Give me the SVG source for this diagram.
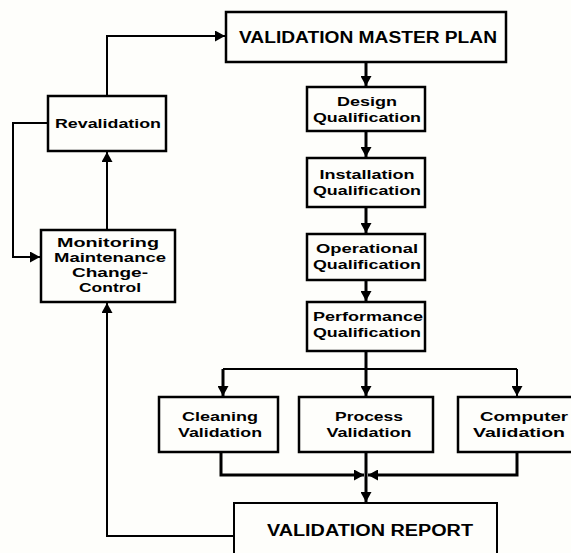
<svg xmlns="http://www.w3.org/2000/svg" width="571" height="553" viewBox="0 0 571 553">
<style>
.box{fill:#fefefb;stroke:#000;stroke-width:2.5}
.t{font-family:"Liberation Sans",Arial,sans-serif;font-weight:bold;font-size:13px;fill:#000;text-anchor:middle}
.big{font-size:16px}
.ln{fill:none;stroke:#000;stroke-width:2}
.thick{stroke-width:3}
</style>
<defs>
<marker id="ah" markerUnits="userSpaceOnUse" markerWidth="10" markerHeight="11" refX="10" refY="5.5" orient="auto" viewBox="0 0 10 11">
<path d="M0,0 L10,5.5 L0,11 z" fill="#000"/>
</marker>
</defs>
<rect width="571" height="553" fill="#fefefb"/>
<g id="connectors">
<path class="ln" d="M107,96 V36 H225" marker-end="url(#ah)"/>
<path class="ln" d="M48,123 H13 V257 H40" marker-end="url(#ah)"/>
<path class="ln" d="M107,230 V152" marker-end="url(#ah)"/>
<path class="ln" d="M234,536 H107 V303" marker-end="url(#ah)"/>
<path class="ln thick" d="M366,62 V86" marker-end="url(#ah)"/>
<path class="ln thick" d="M366,131 V157" marker-end="url(#ah)"/>
<path class="ln thick" d="M366,207 V233" marker-end="url(#ah)"/>
<path class="ln thick" d="M366,280 V301" marker-end="url(#ah)"/>
<path class="ln thick" d="M366,351 V396" marker-end="url(#ah)"/>
<path class="ln" d="M223,369 H517"/>
<path class="ln thick" d="M223,369 V396" marker-end="url(#ah)"/>
<path class="ln" d="M517,369 V396" marker-end="url(#ah)"/>
<path class="ln thick" d="M221,452 V475 H364" marker-end="url(#ah)"/>
<path class="ln thick" d="M517,452 V475 H368" marker-end="url(#ah)"/>
<path class="ln thick" d="M366,452 V502" marker-end="url(#ah)"/>
</g>
<g id="vmp"><rect class="box" x="226" y="12" width="280" height="50"/><text class="t big" x="368" y="43" textLength="258" lengthAdjust="spacingAndGlyphs">VALIDATION MASTER PLAN</text></g>
<g id="revalidation"><rect class="box" x="48" y="96" width="118" height="55"/><text class="t" x="108" y="128" textLength="106" lengthAdjust="spacingAndGlyphs">Revalidation</text></g>
<g id="monitoring"><rect class="box" x="41" y="230" width="134" height="72"/>
<text class="t" x="108" y="247" textLength="102" lengthAdjust="spacingAndGlyphs">Monitoring</text>
<text class="t" x="110" y="262" textLength="112" lengthAdjust="spacingAndGlyphs">Maintenance</text>
<text class="t" x="110" y="277" textLength="76" lengthAdjust="spacingAndGlyphs">Change-</text>
<text class="t" x="110" y="292" textLength="62" lengthAdjust="spacingAndGlyphs">Control</text></g>
<g id="dq"><rect class="box" x="307" y="87" width="118" height="44"/>
<text class="t" x="367" y="106" textLength="60" lengthAdjust="spacingAndGlyphs">Design</text>
<text class="t" x="367" y="122" textLength="108" lengthAdjust="spacingAndGlyphs">Qualification</text></g>
<g id="iq"><rect class="box" x="307" y="158" width="118" height="49"/>
<text class="t" x="367" y="179" textLength="95" lengthAdjust="spacingAndGlyphs">Installation</text>
<text class="t" x="367" y="195" textLength="108" lengthAdjust="spacingAndGlyphs">Qualification</text></g>
<g id="oq"><rect class="box" x="307" y="234" width="118" height="46"/>
<text class="t" x="367" y="253" textLength="102" lengthAdjust="spacingAndGlyphs">Operational</text>
<text class="t" x="367" y="269" textLength="108" lengthAdjust="spacingAndGlyphs">Qualification</text></g>
<g id="pq"><rect class="box" x="307" y="302" width="118" height="49"/>
<text class="t" x="368" y="321" textLength="110" lengthAdjust="spacingAndGlyphs">Performance</text>
<text class="t" x="367" y="337" textLength="108" lengthAdjust="spacingAndGlyphs">Qualification</text></g>
<g id="cleaning"><rect class="box" x="159" y="397" width="119" height="55"/>
<text class="t" x="220" y="421" textLength="76" lengthAdjust="spacingAndGlyphs">Cleaning</text>
<text class="t" x="220" y="437" textLength="84" lengthAdjust="spacingAndGlyphs">Validation</text></g>
<g id="process"><rect class="box" x="299" y="397" width="134" height="55"/>
<text class="t" x="369" y="421" textLength="68" lengthAdjust="spacingAndGlyphs">Process</text>
<text class="t" x="369" y="437" textLength="85" lengthAdjust="spacingAndGlyphs">Validation</text></g>
<g id="computer"><rect class="box" x="458" y="397" width="124" height="55"/>
<text class="t" x="524" y="421" textLength="88" lengthAdjust="spacingAndGlyphs">Computer</text>
<text class="t" x="519" y="437" textLength="92" lengthAdjust="spacingAndGlyphs">Validation</text></g>
<g id="report"><rect class="box" x="234" y="503" width="263" height="60" style="stroke-width:2"/>
<text class="t big" x="370" y="536" textLength="206" lengthAdjust="spacingAndGlyphs">VALIDATION REPORT</text></g>
</svg>
